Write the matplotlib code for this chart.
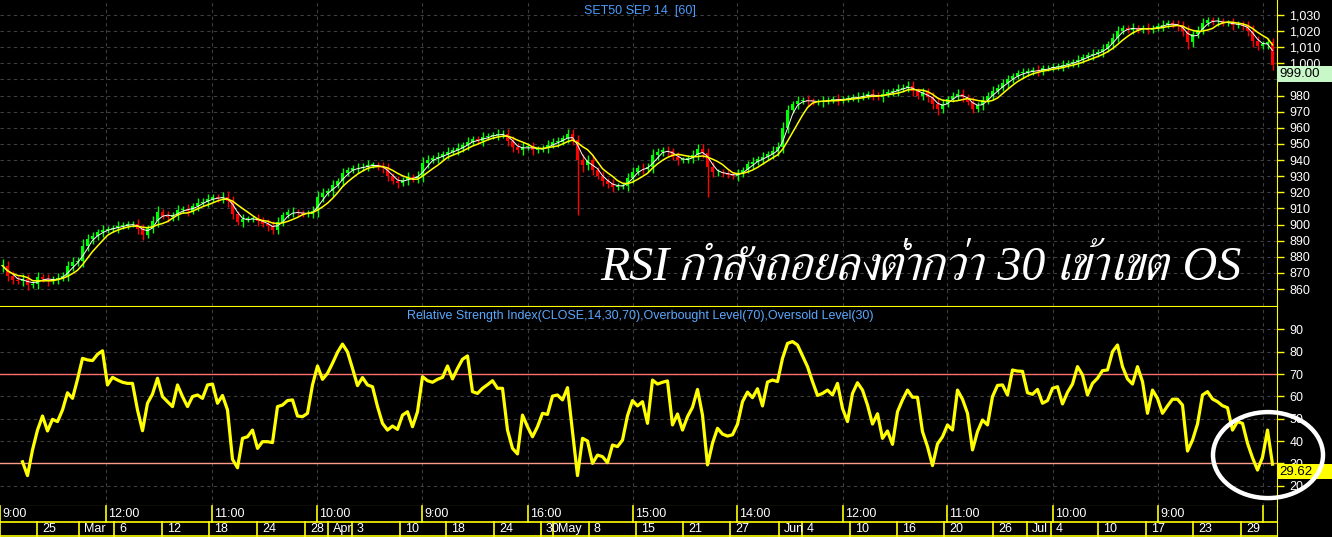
import numpy as np
import pandas as pd
import matplotlib
matplotlib.use("Agg")
import matplotlib.pyplot as plt
import matplotlib.transforms as mtrans
from matplotlib import font_manager
from matplotlib.ft2font import FT2Font
from matplotlib.patches import Ellipse, Rectangle

# hourly SET50 futures, one entry per ~5px of the original chart
closes = [874.5, 868.3, 865.9, 865.2, 866.3, 862.6, 863.2, 867.3, 866.3, 865.2,
          866.3, 866.7, 868.3, 874.5, 876.6, 877.6, 886.9, 891.1, 892.7, 895.2,
          896.9, 897.3, 897.7, 899.3, 899.3, 900.2, 900.4, 897.3, 893.6, 897.7,
          902.4, 907.6, 905.5, 904.5, 906.0, 909.3, 909.7, 908.6, 911.3, 913.4,
          914.2, 915.9, 916.9, 916.3, 916.9, 914.8, 906.6, 901.8, 903.5, 903.5,
          903.5, 902.4, 900.4, 899.3, 896.9, 901.4, 906.0, 907.6, 907.6, 907.2,
          906.8, 906.8, 908.6, 916.9, 919.6, 921.0, 924.5, 927.2, 932.0, 934.0,
          935.0, 935.0, 936.0, 937.0, 937.0, 936.0, 935.0, 930.0, 927.0, 926.0,
          927.6, 929.5, 928.7, 930.3, 938.0, 940.0, 941.1, 942.1, 943.6, 945.2,
          946.0, 947.3, 949.3, 951.4, 953.1, 951.8, 954.3, 955.1, 955.5, 956.0,
          956.4, 951.8, 948.3, 946.2, 948.3, 948.3, 946.2, 946.9, 947.3, 949.3,
          951.4, 951.4, 953.5, 956.0, 952.4, 940.0, 936.9, 940.0, 933.8, 930.3,
          927.0, 925.0, 923.5, 924.1, 924.1, 928.7, 932.8, 934.9, 934.5, 935.9,
          943.1, 944.8, 946.0, 945.6, 942.1, 940.0, 940.0, 941.1, 943.1, 946.9,
          944.2, 935.9, 932.4, 932.4, 931.8, 930.7, 930.3, 931.6, 933.8, 937.4,
          939.0, 940.7, 941.9, 943.6, 945.6, 948.3, 959.7, 971.0, 974.5, 976.6,
          977.2, 976.6, 976.2, 976.2, 976.6, 977.2, 977.9, 977.2, 977.9, 978.5,
          979, 979, 980, 981, 980, 979, 981, 982, 983, 984,
          985, 986, 983, 980, 982, 979, 975, 972, 975, 978,
          980, 981, 979, 976, 972, 974, 977, 980, 983, 985,
          988, 990, 992, 994, 994, 995, 996, 995, 997, 997,
          998, 998, 999, 1000, 1001, 1002, 1004, 1005, 1006, 1007,
          1009, 1012, 1016, 1020, 1022, 1021, 1022, 1021, 1022, 1021,
          1022, 1023, 1024, 1025, 1024, 1023, 1020, 1013, 1018, 1021,
          1025, 1027, 1026, 1026, 1025, 1025, 1024, 1024, 1023, 1020,
          1014, 1011, 1012, 1013, 999.00]

wicks = [4, 3, 3, 2, 3, 3, 2, 3, 2, 3, 2, 3, 2, 3, 3, 2, 4, 3, 3, 2,
         3, 2, 2, 3, 2, 2, 2, 3, 3, 2, 3, 4, 2, 3, 2, 3, 2, 3, 2, 3,
         2, 3, 2, 2, 3, 4, 3, 2, 3, 2, 2, 3, 2, 3, 3, 3, 2, 2, 3, 2,
         2, 2, 3, 4, 3, 2, 3, 2, 3, 2, 2, 3, 2, 3, 2, 2, 3, 3, 2, 3,
         2, 3, 2, 3, 4, 3, 2, 3, 2, 3, 2, 3, 2, 3, 2, 2, 3, 2, 2, 3,
         2, 3, 3, 2, 3, 2, 3, 2, 2, 3, 2, 3, 2, 3, 3, 3, 4, 3, 3, 2,
         3, 2, 3, 2, 2, 3, 3, 2, 3, 2, 4, 3, 2, 3, 2, 3, 2, 2, 3, 3,
         3, 3, 3, 2, 2, 2, 2, 3, 2, 2, 3, 2, 3, 2, 3, 3, 4, 3, 2, 3,
         2, 3, 2, 2, 3, 2, 2, 3, 2, 2, 2, 3, 2, 2, 3, 2, 3, 2, 2, 3,
         2, 3, 3, 2, 3, 3, 3, 4, 3, 2, 2, 3, 3, 2, 3, 2, 3, 2, 3, 2,
         2, 3, 2, 2, 3, 2, 2, 3, 2, 2, 2, 2, 3, 2, 2, 3, 2, 2, 3, 2,
         3, 2, 3, 3, 2, 2, 3, 2, 2, 3, 2, 2, 3, 2, 2, 3, 3, 4, 3, 2,
         3, 2, 2, 3, 2, 2, 3, 2, 2, 3, 4, 3, 2, 3, 3]
spike_bars = [115, 141]
spike_lows = [906, 917]

rsi_start = 4
rsi_vals = [30.7, 24.5, 36.0, 44.9, 51.2, 44.5, 49.7, 48.7, 53.9, 61.6,
            59.1, 67.6, 77.0, 76.3, 76.0, 78.8, 80.4, 65.1, 68.5, 67.3,
            66.3, 65.8, 65.8, 53.9, 44.6, 56.9, 61.0, 68.1, 59.9, 57.6,
            55.4, 65.1, 59.9, 55.4, 59.9, 60.6, 59.1, 65.1, 65.5, 56.9,
            60.4, 53.9, 31.8, 28.0, 41.2, 41.9, 44.9, 36.7, 39.7, 39.7,
            39.3, 55.4, 56.1, 58.1, 58.4, 51.2, 50.9, 52.4, 65.1, 73.6,
            67.6, 70.3, 74.8, 79.7, 83.4, 79.9, 72.5, 64.8, 68.4, 65.1,
            64.3, 55.4, 47.9, 44.9, 46.7, 45.2, 51.6, 53.1, 46.4, 53.1, 68.8,
            67.0, 66.3, 67.6, 68.5, 73.6, 67.8, 72.5, 76.6, 78.1, 62.1,
            61.3, 63.6, 65.2, 67.0, 63.6, 63.6, 44.9, 36.7, 34.2, 51.6,
            46.4, 41.9, 46.4, 52.4, 51.9, 60.1, 60.6, 58.4, 63.9, 44.0,
            24.5, 41.2, 40.0, 30.0, 33.7, 33.0, 30.3, 38.2, 37.5, 40.4,
            51.3, 58.1, 55.7, 57.6, 47.9, 67.3, 65.5, 66.3, 66.9, 47.2,
            52.1, 44.9, 50.9, 55.1, 63.1, 51.6, 29.3, 39.0, 45.7, 43.1,
            42.2, 42.8, 47.5, 57.6, 61.9, 59.4, 63.4, 55.7, 66.4, 67.3,
            66.6, 77.0, 83.7, 84.5, 83.0, 78.1, 73.3, 66.6, 60.4, 61.3,
            62.8, 60.6, 65.8, 54.6, 48.7,
            61.3, 66.1, 62.8, 56.1, 47.6, 52.2, 41.2, 44.5, 38.5, 53.1,
            58.4, 62.8, 59.6, 59.6, 44.2, 37.5, 29.0, 38.7, 41.9, 47.2,
            44.9, 62.8, 58.7, 52.4, 36.0, 44.2, 49.4, 47.2, 59.9, 64.9,
            65.1, 60.6, 71.8, 71.3, 71.2, 61.6, 60.9, 63.1, 56.9, 58.1,
            63.6, 64.3, 56.6, 61.8, 65.5, 73.3, 69.6, 60.6, 65.8, 68.1,
            71.5, 71.8, 80.0, 83.0, 73.3, 67.8, 65.5, 73.3, 66.6, 52.4,
            62.8, 59.1, 52.4, 55.7, 58.7, 58.7, 56.1, 35.5, 40.4, 47.6,
            60.6, 62.1, 58.8, 57.6, 55.8, 54.9, 44.9, 48.7, 47.9, 39.0,
            32.5, 27.0, 32.7, 44.9, 29.62]

price_ticks = list(range(860, 1031, 10))
rsi_ticks = list(range(20, 91, 10))
ob_level, os_level = 70, 30

time_edges = [0, 21.2, 42.4, 63.4, 84.4, 105.6, 126.6, 147.4, 168.6, 189.4, 210.6, 231.6, 252.6]
time_labels = ["9:00", "12:00", "11:00", "10:00", "9:00", "16:00", "15:00",
               "14:00", "12:00", "11:00", "10:00", "9:00", ""]
day_edges = [0, 7.4, 15.8, 22.8, 32.4, 41.8, 51.4, 61.0, 65.6, 70.4, 80.0, 89.2, 98.8,
             108.2, 110.6, 117.8, 127.2, 136.6, 146.0, 155.8, 160.4, 170.0, 179.4,
             188.8, 198.6, 205.4, 210.2, 219.6, 229.2, 238.6, 248.2]
day_labels = ["", "25", "Mar", "6", "12", "18", "24", "28", "Apr", "3", "10", "18", "24",
              "30", "May", "8", "15", "21", "27", "Jun", "4", "10", "16", "20", "26",
              "Jul", "4", "10", "17", "23", "29"]

assert len(closes) == len(wicks) == rsi_start + len(rsi_vals)


def thai_family():
    best = None
    for f in font_manager.fontManager.ttflist:
        try:
            cmap = FT2Font(f.fname).get_charmap()
        except Exception:
            continue
        if 0x0E01 in cmap:
            if f.style == "italic":
                return f.name
            best = best or f.name
    return best


thai = thai_family()
narrow = ["Liberation Sans Narrow", "Liberation Sans", "DejaVu Sans"]
sans = ["Liberation Sans", "DejaVu Sans"]

n = len(closes)
x = np.arange(n) + 0.5
c = np.array(closes, dtype=float)
o = np.r_[c[0], c[:-1]]
hi = np.maximum(o, c) + np.array(wicks)
lo = np.minimum(o, c) - np.array(wicks)
for b, v in zip(spike_bars, spike_lows):
    lo[b] = v
cols = np.where(c >= o, "#00ff00", "#ff0000")
ma_fast = pd.Series(c).rolling(3, min_periods=1).mean()
ma_slow = pd.Series(c).rolling(6, min_periods=1).mean()
rsi = np.r_[[np.nan] * rsi_start, rsi_vals]

W, H = 1332, 537
fig = plt.figure(figsize=(W / 100, H / 100), dpi=100, facecolor="black")
axw = 1277 / W
ax1 = fig.add_axes([0, 1 - 306 / H, axw, 306 / H])
ax2 = fig.add_axes([0, 1 - 506 / H, axw, 199 / H])
ax3 = fig.add_axes([0, 0, axw, 31 / H])
xmax = 1277 / 5

for ax in (ax1, ax2, ax3):
    ax.set_facecolor("black")
    ax.set_xlim(0, xmax)
    for s in ax.spines.values():
        s.set_visible(False)
    ax.tick_params(axis="x", which="both", bottom=False, labelbottom=False)

grid_kw = dict(color="#3e3e3e", lw=0.8, ls=(0, (3, 3)), zorder=0)

# ---- price panel
ax1.set_ylim(849.5, 1039.3)
ax1.yaxis.tick_right()
ax1.set_yticks(price_ticks)
# the 990 label sits fully under the last-price flag, so it is left blank
price_labels = ["" if abs(t - c[-1]) < 10 and t < c[-1] else f"{t:,}" for t in price_ticks]
ax1.set_yticklabels(price_labels, family=sans)
ax1.tick_params(axis="y", colors="yellow", labelcolor="white", length=5, width=1,
                labelsize=9, pad=4)
ax1.spines["right"].set_visible(True)
ax1.spines["right"].set_color("yellow")
ax1.spines["bottom"].set_visible(True)
ax1.spines["bottom"].set_color("yellow")
for t in price_ticks:
    ax1.axhline(t, **grid_kw)
for e in time_edges[1:]:
    ax1.axvline(e, **grid_kw)

ax1.vlines(x, lo, hi, colors=cols, lw=1.0, zorder=2)
body = np.where(np.abs(c - o) < 0.4, 0.4, c - o)
ax1.bar(x, body, bottom=o, width=0.5, color=cols, lw=0, zorder=2)
ax1.plot(x, ma_fast, color="white", lw=0.7, zorder=3)
ax1.plot(x, ma_slow, color="#ffff00", lw=1.1, zorder=3)

ax1.text(0.501, 0.985, "SET50 SEP 14  [60]", transform=ax1.transAxes, ha="center",
         va="top", color="#4a9cff", fontsize=9, family=narrow)
ax1.text(0.721, 0.125, "RSI กำลังถอยลงต่ำกว่า 30 เข้าเขต OS", transform=ax1.transAxes,
         ha="center", va="center", color="white", fontsize=34.5, style="italic",
         family=["Liberation Serif", thai or "DejaVu Serif"], zorder=6)

# last-price flag hangs just below the value
tr1 = mtrans.blended_transform_factory(ax1.transAxes, ax1.transData)
ax1.add_patch(Rectangle((1.0, c[-1] - 10.6), W / 1277 - 1.0, 10, transform=tr1,
                        facecolor="#c8f7c8", edgecolor="none", clip_on=False, zorder=8))
ax1.text(1.002, c[-1] - 5.6, f"{c[-1]:.2f}", transform=tr1, ha="left", va="center",
         color="black", fontsize=9.5, family=sans, clip_on=False, zorder=9)

# ---- RSI panel
ax2.set_ylim(10.9, 100)
ax2.yaxis.tick_right()
ax2.set_yticks(rsi_ticks)
ax2.set_yticklabels([str(t) for t in rsi_ticks], family=sans)
ax2.tick_params(axis="y", colors="yellow", labelcolor="white", length=5, width=1,
                labelsize=9, pad=4)
ax2.spines["right"].set_visible(True)
ax2.spines["right"].set_color("yellow")
ax2.spines["bottom"].set_visible(True)
ax2.spines["bottom"].set_color("yellow")
for t in rsi_ticks:
    ax2.axhline(t, **grid_kw)
for e in time_edges[1:]:
    ax2.axvline(e, **grid_kw)
ax2.axhline(ob_level, color="#ff6f6f", lw=1.0, zorder=1)
ax2.axhline(os_level, color="#ff9a8a", lw=1.0, zorder=1)
ax2.plot(x, rsi, color="#ffff00", lw=2.3, zorder=3, solid_joinstyle="round")
ax2.text(0.501, 0.955, "Relative Strength Index(CLOSE,14,30,70),Overbought Level(70),"
         "Oversold Level(30)", transform=ax2.transAxes, ha="center", va="center",
         color="#5aa8ff", fontsize=9, family=narrow)

tr2 = mtrans.blended_transform_factory(ax2.transAxes, ax2.transData)
ax2.add_patch(Rectangle((1.0, rsi_vals[-1] - 6.8), W / 1277 - 1.0, 6.9, transform=tr2,
                        facecolor="#ffff00", edgecolor="none", clip_on=False, zorder=8))
ax2.text(1.002, rsi_vals[-1] - 3.4, f"{rsi_vals[-1]:.2f}", transform=tr2, ha="left",
         va="center", color="black", fontsize=9.5, family=sans, clip_on=False, zorder=9)
ax2.add_patch(Ellipse((253.6, 33.7), 22, 38.5, facecolor="none", edgecolor="white",
                      lw=3.2, clip_on=False, zorder=10))

# ---- time / date rows
ax3.set_ylim(0, 2)
ax3.set_yticks([])
ax3.spines["right"].set_visible(True)
ax3.spines["right"].set_color("yellow")
ax3.axhline(1.0, color="yellow", lw=1.2)
ax3.axhline(0.04, color="yellow", lw=1.2)
for e, lab in zip(time_edges, time_labels):
    ax3.plot([e, e], [1, 2], color="yellow", lw=1.2, clip_on=False)
    ax3.text(e + 0.5, 1.5, lab, color="white", fontsize=9, family=narrow,
             ha="left", va="center")
for e, lab in zip(day_edges, day_labels):
    ax3.plot([e, e], [0, 1], color="yellow", lw=1.2, clip_on=False)
    ax3.text(e + 1.0, 0.5, lab, color="white", fontsize=9, family=narrow,
             ha="left", va="center")

fig.savefig("out.png", dpi=100, facecolor="black")
